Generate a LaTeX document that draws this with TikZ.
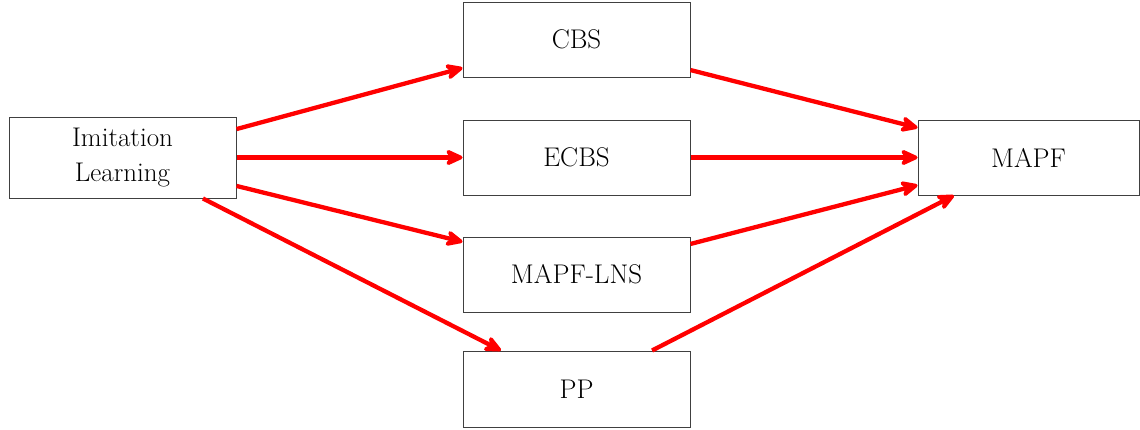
\documentclass[tikz,border=0pt]{standalone}
\usetikzlibrary{arrows.meta}
\begin{document}
\begin{tikzpicture}[x=1pt,y=-1pt,
  box/.style={draw=black!75,line width=1pt,minimum width=227pt,minimum height=75pt,inner sep=0pt,align=center,font=\fontsize{27}{35}\selectfont},
  conn/.style={draw=red,line width=4.3pt,-{Stealth[length=22pt,width=20pt,inset=7pt,round,fill=red]}}]
\useasboundingbox (0,0) rectangle (1140,429);
\node[box,minimum height=81pt] (il) at (122.5,157.5) {Imitation\\Learning};
\node[box] (cbs) at (576.5,39.5) {CBS};
\node[box] (ecbs) at (576.5,157.5) {ECBS};
\node[box] (lns) at (576.5,274.5) {MAPF-LNS};
\node[box,minimum height=76pt] (pp) at (576.5,389) {PP};
\node[box,minimum width=221pt] (mapf) at (1028.5,157.5) {MAPF};
\draw[conn] (il.14.6) -- (cbs.194.6);
\draw[conn] (il.east) -- (ecbs.west);
\draw[conn] (il.-14.6) -- (lns.164.5);
\draw[conn] (il.-27.5) -- (pp.153.6);
\draw[conn] (cbs.345.4) -- (mapf.165.5);
\draw[conn] (ecbs.east) -- (mapf.west);
\draw[conn] (lns.15.3) -- (mapf.194.5);
\draw[conn] (pp.27.3) -- (mapf.207.6);
\end{tikzpicture}
\end{document}
